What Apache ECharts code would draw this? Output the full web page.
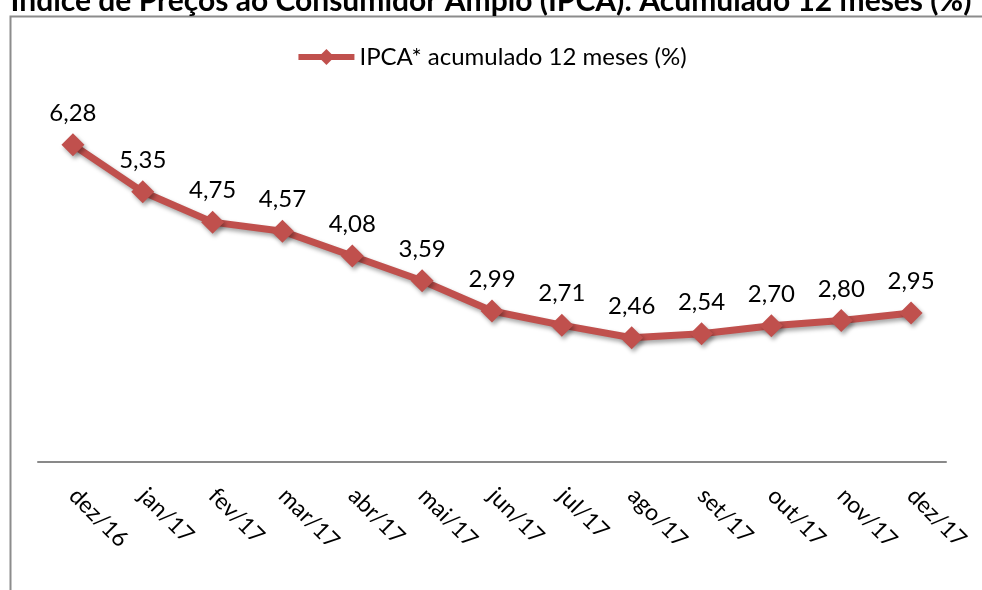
<!DOCTYPE html>
<html><head><meta charset="utf-8">
<script src="https://cdn.jsdelivr.net/npm/echarts@6/dist/echarts.min.js"></script>
<style>html,body{margin:0;padding:0;background:#fff}#c{width:982px;height:590px}</style>
</head><body><div id="c"></div>
<script>
var titleText = 'Índice de Preços ao Consumidor Amplo (IPCA): Acumulado 12 meses (%)';
var seriesName = 'IPCA* acumulado 12 meses (%)';
var categories = ['dez/16','jan/17','fev/17','mar/17','abr/17','mai/17','jun/17','jul/17','ago/17','set/17','out/17','nov/17','dez/17'];
var values = [6.28,5.35,4.75,4.57,4.08,3.59,2.99,2.71,2.46,2.54,2.70,2.80,2.95];

var font = 'Lato, "Open Sans", sans-serif';
var chart = echarts.init(document.getElementById('c'));
chart.setOption({
  animation: false,
  backgroundColor: '#fff',
  title: {
    text: titleText, left: 'center', top: -19,
    textStyle: {fontFamily: font, fontWeight: 'bold', fontSize: 30, color: '#000'}
  },
  graphic: [{
    type: 'rect', left: 8, top: 14, shape: {width: 1000, height: 600},
    style: {fill: 'none', stroke: '#8c8c8c', lineWidth: 2}, silent: true, z: -1
  }],
  legend: {
    top: 40, left: 'center', itemWidth: 56, itemHeight: 20, itemGap: 4,
    lineStyle: {width: 6, color: '#C0504D'},
    itemStyle: {color: '#C0504D'},
    textStyle: {fontFamily: font, fontSize: 24, color: '#000'},
    data: [seriesName]
  },
  grid: {left: 38, right: 36, top: 108.5, bottom: 128},
  xAxis: {
    type: 'category', data: categories, boundaryGap: true,
    axisLine: {lineStyle: {color: '#898989', width: 2}},
    axisTick: {show: false},
    axisLabel: {rotate: -45, margin: 30, fontFamily: font, fontSize: 23, color: '#000', interval: 0}
  },
  yAxis: {
    type: 'value', min: 0, max: 7, interval: 1, show: false,
    splitLine: {show: false}
  },
  series: [{
    name: seriesName, type: 'line', data: values,
    symbol: 'diamond', symbolSize: 23,
    lineStyle: {color: '#C0504D', width: 7, shadowColor: 'rgba(0,0,0,0.35)', shadowBlur: 4, shadowOffsetX: 2, shadowOffsetY: 3},
    itemStyle: {color: '#C0504D', shadowColor: 'rgba(0,0,0,0.35)', shadowBlur: 4, shadowOffsetX: 2, shadowOffsetY: 3},
    label: {
      show: true, position: 'top', distance: 8,
      fontFamily: font, fontSize: 24, color: '#000',
      formatter: function(p){ return p.value.toFixed(2).replace('.', ','); }
    }
  }]
});
</script></body></html>
